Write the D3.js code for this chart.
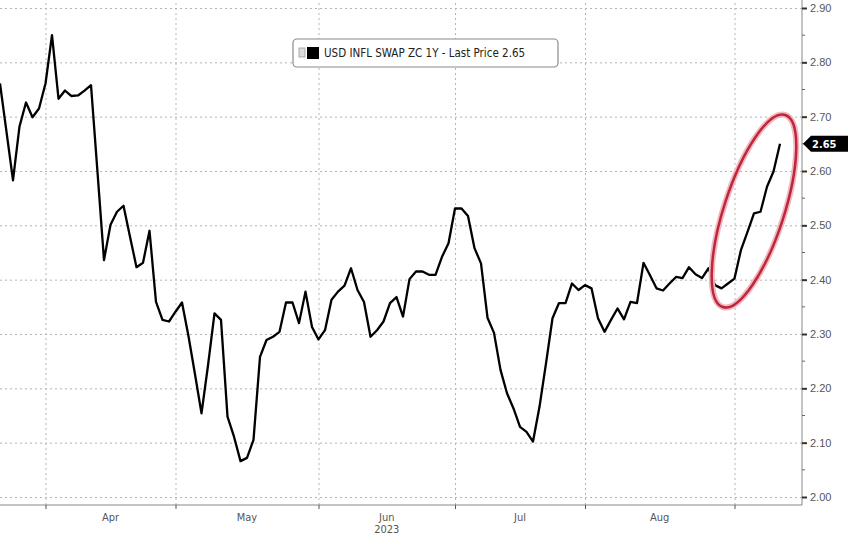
<!DOCTYPE html>
<html>
<head>
<meta charset="utf-8">
<script src="https://cdn.jsdelivr.net/npm/d3@7"></script>
<style>
  body { margin: 0; background: #fff; }
  svg { display: block; font-family: "DejaVu Sans Condensed", "DejaVu Sans", sans-serif; }
  .grid line { stroke: #b4b4b4; stroke-dasharray: 2,3; }
  .grid path { display: none; }
  .axis text { fill: #555; font-size: 11px; }
</style>
</head>
<body>
<div id="chart"></div>
<script>
// USD INFL SWAP ZC 1Y, one value per trading day (~23 Mar to 12 Sep 2023)
let swapValues = [
  2.761, 2.672, 2.583, 2.682, 2.726, 2.699, 2.715, 2.761, 2.850, 2.733,
  2.748, 2.738, 2.739, 2.748, 2.758, 2.598, 2.436, 2.501, 2.525, 2.536,
  2.479, 2.423, 2.431, 2.490, 2.359, 2.326, 2.323, 2.341, 2.358, 2.296,
  2.226, 2.154, 2.242, 2.338, 2.326, 2.148, 2.111, 2.066, 2.072, 2.105,
  2.258, 2.289, 2.295, 2.304, 2.358, 2.358, 2.320, 2.378, 2.313, 2.290,
  2.307, 2.363, 2.378, 2.389, 2.421, 2.381, 2.359, 2.295, 2.307, 2.323,
  2.357, 2.368, 2.332, 2.401, 2.415, 2.415, 2.409, 2.409, 2.442, 2.467,
  2.531, 2.531, 2.517, 2.458, 2.430, 2.330, 2.302, 2.234, 2.191, 2.163,
  2.129, 2.120, 2.102, 2.166, 2.246, 2.329, 2.357, 2.357, 2.393, 2.381,
  2.390, 2.384, 2.329, 2.304, 2.326, 2.347, 2.327, 2.359, 2.357, 2.431,
  2.408, 2.384, 2.380, 2.393, 2.405, 2.403, 2.423, 2.410, 2.403, 2.421,
  2.390, 2.384, 2.393, 2.402, 2.455, 2.488, 2.522, 2.525, 2.571, 2.599,
  2.650
];

// month labels and the trading-day index where each month starts
let monthLabels = ['Apr', 'May', 'Jun', 'Jul', 'Aug'];
let monthStart = [7, 27, 49, 70, 90, 113];
let yearLabel = '2023';
let yTicks = [2.0, 2.1, 2.2, 2.3, 2.4, 2.5, 2.6, 2.7, 2.8, 2.9];
let yMinor = [2.05, 2.15, 2.25, 2.35, 2.45, 2.55, 2.65, 2.75, 2.85];
let seriesName = 'USD INFL SWAP ZC 1Y - Last Price';
let lastPrice = 2.65;

let width = 848, height = 535;
let plotRight = 802, plotBottom = 505;

let svg = d3.select('#chart').append('svg')
  .attr('width', width)
  .attr('height', height);

let x = d3.scaleLinear()
  .domain([0, swapValues.length - 1])
  .range([0, 780]);

let y = d3.scaleLinear()
  .domain([2.0, 2.9])
  .range([497, 8]);

// grid
svg.append('g')
  .attr('class', 'grid')
  .attr('transform', `translate(${plotRight},0)`)
  .call(d3.axisLeft(y).tickValues(yTicks).tickSize(plotRight).tickFormat(''));

svg.append('g')
  .attr('class', 'grid')
  .attr('transform', `translate(0,${plotBottom})`)
  .call(d3.axisTop(x).tickValues(monthStart).tickSize(plotBottom).tickFormat(''));

// axes frame
svg.append('line')
  .attr('x1', 0).attr('x2', plotRight)
  .attr('y1', plotBottom).attr('y2', plotBottom)
  .attr('stroke', '#888');
svg.append('line')
  .attr('x1', plotRight).attr('x2', plotRight)
  .attr('y1', 0).attr('y2', plotBottom)
  .attr('stroke', '#888');

// right axis
let yAxis = svg.append('g')
  .attr('class', 'axis')
  .attr('transform', `translate(${plotRight},0)`)
  .call(d3.axisRight(y).tickValues(yTicks).tickSize(5).tickPadding(3).tickFormat(d3.format('.2f')));
yAxis.select('.domain').remove();
yAxis.selectAll('.tick line').attr('stroke', '#333').attr('stroke-width', 2);

svg.append('g')
  .attr('transform', `translate(${plotRight},0)`)
  .selectAll('line')
  .data(yMinor)
  .enter().append('line')
    .attr('x1', 0).attr('x2', 3)
    .attr('y1', d => y(d)).attr('y2', d => y(d))
    .attr('stroke', '#666');

// bottom axis
let xAxis = svg.append('g')
  .attr('class', 'axis')
  .attr('transform', `translate(0,${plotBottom})`)
  .call(d3.axisBottom(x).tickValues(monthStart).tickSize(4).tickFormat(''));
xAxis.select('.domain').remove();
xAxis.selectAll('.tick line').attr('stroke', '#555');

svg.append('g')
  .attr('class', 'axis')
  .selectAll('text')
  .data(monthLabels)
  .enter().append('text')
    .attr('x', (d, i) => x((monthStart[i] + monthStart[i + 1]) / 2))
    .attr('y', 521)
    .attr('text-anchor', 'middle')
    .text(d => d);

svg.append('text')
  .attr('class', 'axis')
  .attr('x', x((monthStart[2] + monthStart[3]) / 2))
  .attr('y', 533)
  .attr('text-anchor', 'middle')
  .attr('fill', '#555')
  .attr('font-size', 11)
  .text(yearLabel);

// line
let line = d3.line()
  .x((d, i) => x(i))
  .y(d => y(d));

svg.append('path')
  .datum(swapValues)
  .attr('d', line)
  .attr('fill', 'none')
  .attr('stroke', '#000')
  .attr('stroke-width', 2.3)
  .attr('stroke-linejoin', 'round');

// red ellipse around the last run-up
let ell = svg.append('g')
  .attr('transform', 'translate(754,211) rotate(18)');
ell.append('ellipse')
  .attr('rx', 30).attr('ry', 101)
  .attr('fill', 'none')
  .attr('stroke', '#f0b8c0')
  .attr('stroke-width', 6);
ell.append('ellipse')
  .attr('rx', 30).attr('ry', 101)
  .attr('fill', 'none')
  .attr('stroke', '#c0263a')
  .attr('stroke-width', 2.5);

// last price tag
let ty = y(lastPrice);
svg.append('path')
  .attr('d', `M${plotRight + 1},${ty} L${plotRight + 9},${ty - 8} L${width},${ty - 8} L${width},${ty + 8} L${plotRight + 9},${ty + 8} Z`)
  .attr('fill', '#000');
svg.append('text')
  .attr('x', plotRight + 10)
  .attr('y', ty + 4)
  .attr('fill', '#fff')
  .attr('font-size', 11)
  .attr('font-weight', 'bold')
  .text(lastPrice.toFixed(2));

// legend
let legend = svg.append('g');
legend.append('rect')
  .attr('x', 293).attr('y', 39)
  .attr('width', 265).attr('height', 28)
  .attr('rx', 4)
  .attr('fill', '#fff')
  .attr('stroke', '#8a8a8a')
  .attr('stroke-width', 1.2);
legend.append('rect')
  .attr('x', 299).attr('y', 48)
  .attr('width', 6).attr('height', 9)
  .attr('fill', '#ddd')
  .attr('stroke', '#999')
  .attr('stroke-width', 0.8);
legend.append('rect')
  .attr('x', 307).attr('y', 47)
  .attr('width', 12).attr('height', 12)
  .attr('fill', '#000');
legend.append('text')
  .attr('x', 324).attr('y', 57)
  .attr('font-size', 11.5)
  .attr('fill', '#222')
  .text(`${seriesName} ${lastPrice.toFixed(2)}`);
</script>
</body>
</html>
